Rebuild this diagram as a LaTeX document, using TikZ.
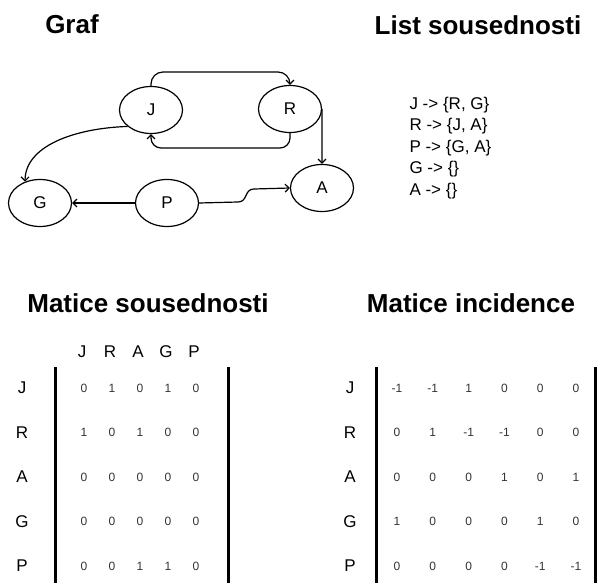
\documentclass[tikz,border=0pt]{standalone}
\usepackage{fontspec}
\setmainfont{Liberation Sans}
\usetikzlibrary{arrows.meta,shapes.geometric}

\begin{document}
\begin{tikzpicture}[x=1pt,y=-1pt,
    vrchol/.style={draw,ellipse,minimum width=63pt,minimum height=47pt,inner sep=0pt,line width=1.2pt,font=\fontsize{17}{20}\selectfont},
    hrana/.style={line width=1.2pt,-{Straight Barb[length=4pt,width=8pt]}},
    nadpis/.style={font=\fontsize{26}{31}\selectfont\bfseries},
    radek/.style={anchor=west,font=\fontsize{17}{20}\selectfont},
    popisek/.style={font=\fontsize{17}{20}\selectfont},
    cislo/.style={font=\fontsize{12}{14}\selectfont,text=black!80},
    zavorka/.style={line width=3pt}]
    \useasboundingbox (0,0) rectangle (597,583);
    % titles
    \node[nadpis] (tgraf) at (72,24) {Graf};
    \node[nadpis] (tlist) at (478,25) {List sousednosti};
    \node[nadpis] (tsous) at (148,303) {Matice sousednosti};
    \node[nadpis] (tinc) at (471,303) {Matice incidence};
    % graph
    \node[vrchol] (J) at (151,110) {J};
    \node[vrchol] (R) at (290,109) {R};
    \node[vrchol] (A) at (322,188) {A};
    \node[vrchol] (G) at (40,203) {G};
    \node[vrchol] (P) at (167,203) {P};
    \coordinate (horni) at (220,72);
    \coordinate (dolni) at (220,148);
    \coordinate (ohyb1) at (238,202);
    \coordinate (ohyb2) at (254,189);
    \draw[hrana,rounded corners=12pt] (J.north) |- (horni) -| (R.north);
    \draw[hrana,rounded corners=10pt] (R.south) |- (dolni) -| (J.south);
    \draw[hrana] (R.east) -- (A.north);
    \draw[hrana] (J.215) .. controls +(-55,2) and +(0,-35) .. (G.125);
    \draw[hrana] (P.west) -- (G.east);
    \draw[hrana] (P.east) -- (ohyb1) .. controls +(10,0) and +(-10,0) .. (ohyb2) -- (A.west);
    % adjacency list
    \node[radek] (lJ) at (406,105) {J -> \{R, G\}};
    \node[radek] (lR) at (406,126.5) {R -> \{J, A\}};
    \node[radek] (lP) at (406,148) {P -> \{G, A\}};
    \node[radek] (lG) at (406,169.5) {G -> \{\}};
    \node[radek] (lA) at (406,191) {A -> \{\}};
    % adjacency matrix
    \foreach \h [count=\i] in {J,R,A,G,P}
        \node[popisek] (sh\i) at ({54+28*\i},352) {\h};
    \foreach \h [count=\i] in {J,R,A,G,P}
        \node[popisek] (sr\i) at (22,{343.5+44.5*\i}) {\h};
    \foreach \radky [count=\r] in {{0,1,0,1,0},{1,0,1,0,0},{0,0,0,0,0},{0,0,0,0,0},{0,0,1,1,0}}
        \foreach \v [count=\s] in \radky
            \node[cislo] (s\r-\s) at ({56+28*\s},{343.5+44.5*\r}) {\v};
    \draw[zavorka] (55,367) -- (55,583);
    \draw[zavorka] (228,367) -- (228,583);
    % incidence matrix
    \foreach \h [count=\i] in {J,R,A,G,P}
        \node[popisek] (ir\i) at (350,{343.5+44.5*\i}) {\h};
    \foreach \radky [count=\r] in {{-1,-1,1,0,0,0},{0,1,-1,-1,0,0},{0,0,0,1,0,1},{1,0,0,0,1,0},{0,0,0,0,-1,-1}}
        \foreach \v [count=\s] in \radky
            \node[cislo] (i\r-\s) at ({361.2+35.8*\s},{343.5+44.5*\r}) {\v};
    \draw[zavorka] (376,367) -- (376,583);
    \draw[zavorka] (595,367) -- (595,583);
\end{tikzpicture}
\end{document}
